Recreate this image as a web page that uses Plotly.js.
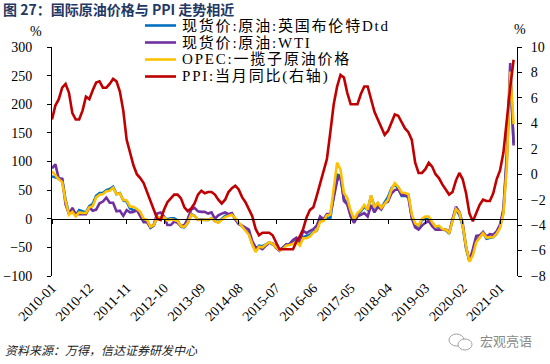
<!DOCTYPE html>
<html>
<head>
<meta charset="utf-8">
<script src="https://cdn.plot.ly/plotly-3.0.1.min.js"></script>
<style>
html,body{margin:0;padding:0;background:#fff;}
#chart{width:550px;height:364px;}
</style>
</head>
<body>
<div id="chart"></div>
<script>
// Monthly categories 2010-01 .. 2021-05
const firstYear = 2010;
const monthCount = 137;
const months = [];
for (let i = 0; i < monthCount; i++) {
  months.push(`${firstYear + Math.floor(i / 12)}-${String(i % 12 + 1).padStart(2, '0')}`);
}
const tickLabels = ['2010-01','2010-12','2011-11','2012-10','2013-09','2014-08','2015-07',
  '2016-06','2017-05','2018-04','2019-03','2020-02','2021-01'];

// 现货价:原油:英国布伦特Dtd, YoY %
const brent = [
  74,72,71,69,33,9,16,6,15,13,11,22,
  26,40,45,45,50,52,56,43,45,32,30,18,
  15,15,10,-3,-4,-16,-12,3,0,2,-1,1,
  1,-3,-14,-15,-7,8,5,-2,-1,-2,-2,1,
  -4,-6,-1,5,7,9,-1,-9,-13,-20,-26,-44,
  -56,-47,-48,-45,-41,-45,-47,-54,-51,-45,-44,-39,
  -36,-45,-32,-30,-28,-22,-21,-2,-2,2,1,40,
  78,71,35,26,8,-4,8,13,21,16,40,21,
  27,19,28,38,53,60,53,40,40,41,3,-11,
  -14,-2,0,-1,-7,-14,-14,-19,-20,-26,-2,17,
  7,-13,-52,-74,-59,-37,-32,-24,-35,-33,-32,-26,
  -14,12,104,252,132
];
// 现货价:原油:WTI, YoY %
const wti = [
  88,95,70,70,25,8,19,8,8,8,8,20,
  14,16,27,30,37,28,28,13,14,5,15,11,
  12,15,3,-6,-6,-15,-10,9,11,4,-11,-11,
  -5,-7,-13,-11,0,16,19,13,12,12,9,11,
  0,6,9,11,8,10,-1,-9,-12,-16,-19,-39,
  -50,-50,-53,-47,-42,-43,-51,-56,-51,-45,-44,-37,
  -33,-40,-21,-25,-21,-18,-12,4,-1,8,8,40,
  66,77,31,25,4,-7,4,7,10,4,24,11,
  21,16,27,30,44,50,52,42,41,37,1,-15,
  -19,-12,-7,-4,-13,-19,-19,-20,-19,-24,0,21,
  12,-8,-50,-74,-53,-30,-29,-23,-31,-27,-28,-22,
  -10,17,113,272,128
];
// OPEC:一揽子原油价格, YoY %
const opec = [
  83,76,69,64,31,7,12,4,11,10,10,20,
  22,37,42,43,48,49,54,43,44,33,32,21,
  21,17,12,0,-2,-14,-11,3,3,2,-3,-1,
  -2,-4,-13,-14,-7,7,5,-2,-2,-2,-2,1,
  -4,-7,-2,3,5,7,1,-6,-12,-20,-28,-45,
  -58,-49,-50,-45,-41,-44,-49,-55,-53,-47,-46,-44,
  -40,-47,-34,-34,-31,-24,-21,-5,-4,6,7,54,
  98,86,45,36,14,-1,10,15,24,16,41,20,
  28,19,27,33,51,62,56,46,45,43,8,-8,
  -12,0,4,4,-6,-14,-12,-18,-19,-25,-4,17,
  11,-12,-49,-75,-64,-41,-33,-25,-33,-33,-32,-26,
  -16,9,91,257,165
];
// PPI:当月同比, %
const ppi = [
  4.3,5.4,5.9,6.8,7.1,6.4,4.8,4.3,4.3,5.0,6.1,5.9,
  6.6,7.2,7.3,6.8,6.8,7.1,7.5,7.3,6.5,5.0,2.7,1.7,
  0.7,0.0,-0.3,-0.7,-1.4,-2.1,-2.9,-3.5,-3.6,-2.8,-2.2,-1.9,
  -1.6,-1.6,-1.9,-2.6,-2.9,-2.7,-2.3,-1.6,-1.3,-1.5,-1.4,-1.4,
  -1.6,-2.0,-2.3,-2.0,-1.4,-1.1,-0.9,-1.2,-1.8,-2.2,-2.7,-3.3,
  -4.3,-4.8,-4.6,-4.6,-4.6,-4.8,-5.4,-5.9,-5.9,-5.9,-5.9,-5.9,
  -5.3,-4.9,-4.3,-3.4,-2.8,-2.6,-1.7,-0.8,0.1,1.2,3.3,5.5,
  6.9,7.8,7.6,6.4,5.5,5.5,5.5,6.3,6.9,6.9,5.8,4.9,
  4.3,3.7,3.1,3.4,4.1,4.7,4.6,4.1,3.6,3.3,2.7,0.9,
  0.1,0.1,0.4,0.9,0.6,0.0,-0.3,-0.8,-1.2,-1.6,-1.4,-0.5,
  0.1,-0.4,-1.5,-3.1,-3.7,-3.0,-2.4,-2.0,-2.1,-2.1,-1.5,-0.4,
  0.3,1.7,4.4,6.8,9.0
];
const seriesNames = ['现货价:原油:英国布伦特Dtd','现货价:原油:WTI','OPEC:一揽子原油价格','PPI:当月同比(右轴)'];
const seriesColors = ['#0070C0','#7030A0','#FFC000','#C00000'];

const serif = 'Liberation Serif, Times New Roman, Noto Sans CJK SC, serif';
const cjk = 'Noto Sans CJK SC, sans-serif';

const lw = 2.6;
const seriesData = [brent, wti, opec, ppi];
const seriesAxes = ['y', 'y', 'y', 'y2'];
const traces = seriesData.map((vals, i) => ({
  x: months, y: vals, name: seriesNames[i], type: 'scatter', mode: 'lines',
  line: {color: seriesColors[i], width: lw}, xaxis: 'x', yaxis: seriesAxes[i], showlegend: false
}));
// carrier for the zero-line category axis (no visible data)
traces.push({x: months, y: months.map(() => null), xaxis: 'x2', yaxis: 'y', type: 'scatter',
  mode: 'lines', showlegend: false, hoverinfo: 'skip'});

const L = 52, R = 33, T = 47, B = 88;
const W = 550, H = 364;
const pw = W - L - R, ph = H - T - B;
const px = v => (v - L) / pw;
const py = v => (H - B - v) / ph;

// legend (drawn as swatches + text)
const legendRows = [25.5, 42.5, 59.5, 76.5];
const legendShapes = seriesNames.map((n, i) => ({
  type: 'line', xref: 'paper', yref: 'paper', x0: px(145), x1: px(176),
  y0: py(legendRows[i]), y1: py(legendRows[i]), line: {color: seriesColors[i], width: lw}
}));
const legendTexts = seriesNames.map((n, i) => ({
  text: `<span style="letter-spacing:1.8px">${n}</span>`, xref: 'paper', yref: 'paper',
  x: px(180), y: py(legendRows[i]), xanchor: 'left', yanchor: 'middle', showarrow: false,
  font: {family: serif, size: 15, color: '#000'}
}));

const layout = {
  width: W, height: H,
  margin: {l: L, r: R, t: T, b: B, pad: 0},
  paper_bgcolor: '#fff', plot_bgcolor: 'rgba(0,0,0,0)',
  showlegend: false,
  title: {
    text: '图 27：国际原油价格与 PPI 走势相近',
    font: {family: cjk, size: 14, color: '#1F3864', weight: 'bold'},
    xref: 'container', yref: 'container', x: 3 / W, y: 1 - 10 / H,
    xanchor: 'left', yanchor: 'middle', pad: {t: 0, b: 0, l: 0, r: 0}
  },
  xaxis: {
    type: 'category', range: [0, 137], showline: false, ticks: '', showgrid: false, zeroline: false,
    tickmode: 'array', tickvals: tickLabels, ticktext: tickLabels, tickangle: -45,
    tickfont: {family: serif, size: 14, color: '#000'}, anchor: 'y'
  },
  xaxis2: {
    type: 'category', range: [0, 137], overlaying: 'x', anchor: 'free', position: 0.25,
    showline: true, linecolor: '#000', linewidth: 1,
    ticks: 'outside', ticklen: 4, tickcolor: '#000', tickwidth: 1,
    tickmode: 'array', tickvals: tickLabels, showticklabels: false, showgrid: false, zeroline: false
  },
  yaxis: {
    range: [-100, 300], dtick: 50, tick0: 0, showline: true, linecolor: '#000', linewidth: 1,
    ticks: 'outside', ticklen: 4, tickcolor: '#000', showgrid: false, zeroline: false,
    tickfont: {family: serif, size: 14, color: '#000'}, ticklabelstandoff: 12
  },
  yaxis2: {
    range: [-8, 10], dtick: 2, tick0: 0, overlaying: 'y', side: 'right', anchor: 'x',
    showline: true, linecolor: '#000', linewidth: 1,
    ticks: 'outside', ticklen: 4, tickcolor: '#000', showgrid: false, zeroline: false,
    tickfont: {family: serif, size: 14, color: '#000'}, ticklabelstandoff: 6
  },
  annotations: [
    {text: '%', xref: 'paper', yref: 'paper', x: px(36), y: py(32), showarrow: false,
     font: {family: serif, size: 14, color: '#000'}, xanchor: 'center', yanchor: 'middle'},
    {text: '%', xref: 'paper', yref: 'paper', x: px(520), y: py(30), showarrow: false,
     font: {family: serif, size: 14, color: '#000'}, xanchor: 'center', yanchor: 'middle'},
    {text: '<i>资料来源：万得，信达证券研发中心</i>', xref: 'paper', yref: 'paper', x: px(3), y: py(349), showarrow: false,
     font: {family: cjk, size: 12, color: '#222'}, xanchor: 'left', yanchor: 'middle'},
    {text: '宏观亮语', xref: 'paper', yref: 'paper', x: px(478), y: py(340), showarrow: false,
     font: {family: cjk, size: 13, color: '#8a8a8a'}, xanchor: 'left', yanchor: 'middle'}
  ].concat(legendTexts),
  shapes: [
    {type: 'circle', xref: 'paper', yref: 'paper', x0: px(449), x1: px(464), y0: py(346), y1: py(334),
     line: {color: '#a0a0a0', width: 1}},
    {type: 'circle', xref: 'paper', yref: 'paper', x0: px(458), x1: px(472), y0: py(350), y1: py(339),
     line: {color: '#a0a0a0', width: 1}, fillcolor: '#fff'}
  ].concat(legendShapes)
};

Plotly.newPlot('chart', traces, layout, {displayModeBar: false, staticPlot: true});
</script>
</body>
</html>
